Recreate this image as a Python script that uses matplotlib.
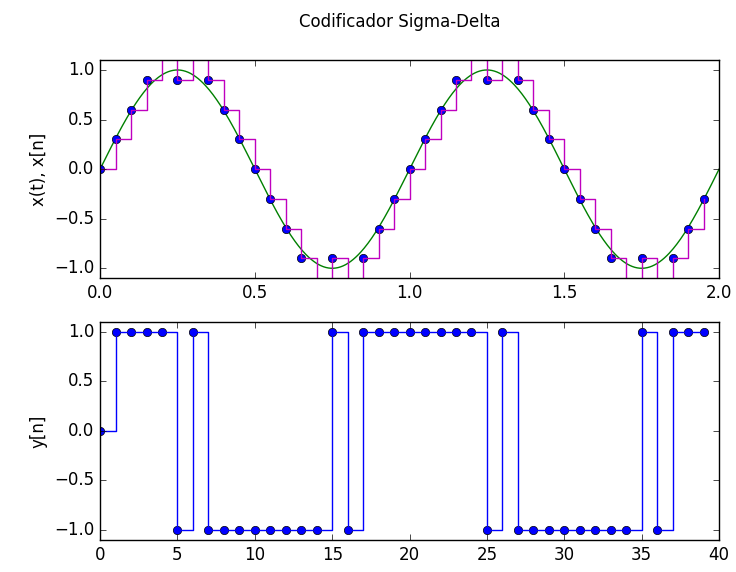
import matplotlib
matplotlib.use("Agg")
import matplotlib.pyplot as plt
import numpy as np

plt.style.use('classic')

# sigma-delta output y[n]
n = list(range(40))
y = [0, 1, 1, 1, 1, -1, 1, -1, -1, -1, -1, -1, -1, -1, -1, 1, -1, 1, 1, 1,
     1, 1, 1, 1, 1, -1, 1, -1, -1, -1, -1, -1, -1, -1, -1, 1, -1, 1, 1, 1]

# sample instants and reconstructed x[n]
tn = [0.00, 0.05, 0.10, 0.15, 0.20, 0.25, 0.30, 0.35, 0.40, 0.45,
      0.50, 0.55, 0.60, 0.65, 0.70, 0.75, 0.80, 0.85, 0.90, 0.95,
      1.00, 1.05, 1.10, 1.15, 1.20, 1.25, 1.30, 1.35, 1.40, 1.45,
      1.50, 1.55, 1.60, 1.65, 1.70, 1.75, 1.80, 1.85, 1.90, 1.95]
xn = [0.0, 0.3, 0.6, 0.9, 1.2, 0.9, 1.2, 0.9, 0.6, 0.3,
      0.0, -0.3, -0.6, -0.9, -1.2, -0.9, -1.2, -0.9, -0.6, -0.3,
      0.0, 0.3, 0.6, 0.9, 1.2, 0.9, 1.2, 0.9, 0.6, 0.3,
      0.0, -0.3, -0.6, -0.9, -1.2, -0.9, -1.2, -0.9, -0.6, -0.3]

# continuous input x(t), 1 Hz sine
f0 = 1.0
t = np.linspace(0, 2, 500)
xt = np.sin(2 * np.pi * f0 * t)

fig = plt.figure(figsize=(7.36, 5.72), dpi=100)
fig.subplots_adjust(left=0.136, right=0.977, top=0.895, bottom=0.056, hspace=0.2)
fig.suptitle('Codificador Sigma-Delta', x=0.543, y=0.977)

ax1 = fig.add_subplot(211)
ax1.plot(t, xt, 'g')
ax1.plot(tn, xn, 'bo')
ax1.step(tn, xn, 'm', where='post')
ax1.set_xlim(0, 2)
ax1.set_ylim(-1.1, 1.1)
ax1.set_ylabel('x(t), x[n]')

ax2 = fig.add_subplot(212)
ax2.plot(n, y, 'bo')
ax2.step(n, y, 'b', where='post')
ax2.set_xlim(0, 40)
ax2.set_ylim(-1.1, 1.1)
ax2.set_ylabel('y[n]')

fig.savefig('out.png', dpi=100)
